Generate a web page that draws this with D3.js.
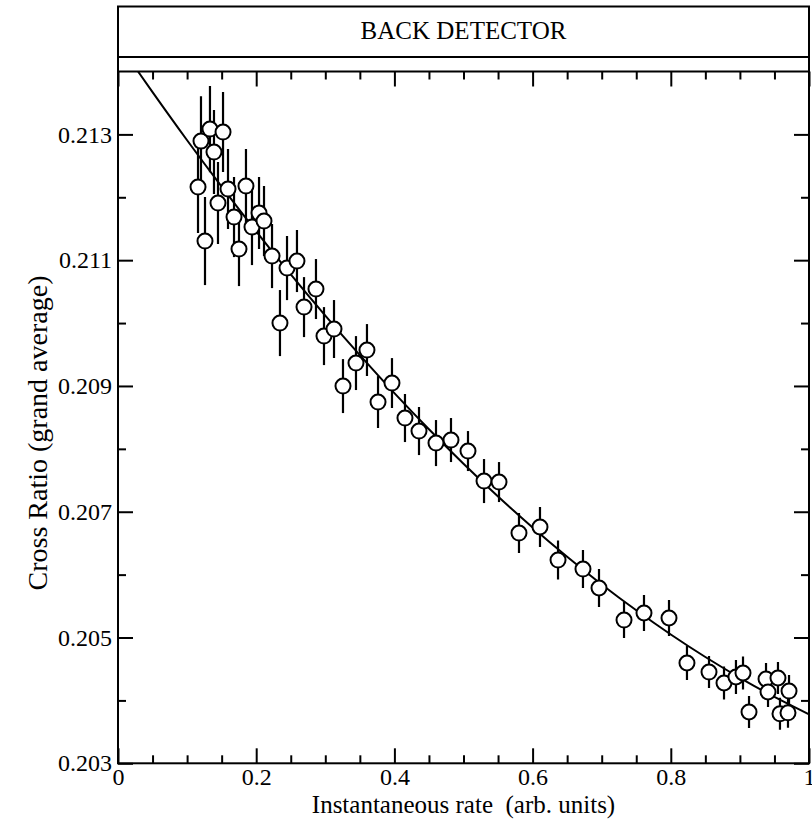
<!DOCTYPE html>
<html>
<head>
<meta charset="utf-8">
<script src="https://cdn.jsdelivr.net/npm/d3@7"></script>
<style>
  html, body { margin: 0; padding: 0; background: #fff; }
  svg { display: block; font-family: "Liberation Serif", "Times New Roman", serif; }
  text { white-space: pre; }
</style>
</head>
<body>
<svg id="chart" width="812" height="827"></svg>
<script>
// ---- data ----
const chartTitle = "BACK DETECTOR";
const xLabel = "Instantaneous rate  (arb. units)";
const yLabel = "Cross Ratio (grand average)";

const rate = [0.1158,0.1201,0.1259,0.1331,0.1389,0.1447,0.1520,0.1592,0.1679,0.1751,
  0.1852,0.1939,0.2041,0.2113,0.2229,0.2446,0.2590,0.2344,0.2692,0.2865,
  0.2981,0.3126,0.3256,0.3444,0.3603,0.3763,0.3965,0.4153,0.4356,0.4602,
  0.4819,0.5065,0.5297,0.5514,0.5803,0.6107,0.6368,0.6729,0.6961,0.7323,
  0.7612,0.7974,0.8234,0.8553,0.8770,0.8943,0.9045,0.9132,0.9378,0.9407,
  0.9551,0.9580,0.9711,0.9696];
const ratio = [0.212162,0.212893,0.211304,0.213084,0.212719,0.211908,0.213037,0.212130,0.211685,0.211176,
  0.212178,0.211526,0.211749,0.211622,0.211065,0.210874,0.210986,0.210000,0.210254,0.210541,
  0.209793,0.209905,0.208998,0.209364,0.209571,0.208744,0.209046,0.208490,0.208283,0.208092,
  0.208140,0.207965,0.207488,0.207472,0.206661,0.206757,0.206232,0.206089,0.205787,0.205278,
  0.205390,0.205310,0.204595,0.204451,0.204277,0.204372,0.204436,0.203816,0.204340,0.204134,
  0.204356,0.203787,0.204149,0.203803];
const ratioErr = [0.000731,0.000715,0.000700,0.000684,0.000668,0.000652,0.000636,0.000636,0.000636,0.000588,
  0.000588,0.000604,0.000572,0.000556,0.000509,0.000509,0.000493,0.000525,0.000477,0.000477,
  0.000461,0.000461,0.000429,0.000429,0.000413,0.000413,0.000397,0.000382,0.000382,0.000366,
  0.000350,0.000318,0.000350,0.000318,0.000318,0.000318,0.000310,0.000302,0.000302,0.000286,
  0.000286,0.000286,0.000270,0.000254,0.000262,0.000270,0.000262,0.000254,0.000254,0.000238,
  0.000254,0.000254,0.000254,0.000238];

// fitted curve
const fitRate  = [0.029,0.05,0.10,0.15,0.20,0.25,0.30,0.35,0.40,0.45,0.50,0.55,0.60,0.65,0.70,0.75,0.80,0.85,0.90,0.95,1.00];
const fitRatio = [0.214000,0.213672,0.212907,0.212169,0.211458,0.210774,0.210118,0.209489,0.208887,0.208312,
  0.207764,0.207243,0.206750,0.206284,0.205844,0.205433,0.205048,0.204690,0.204360,0.204056,0.203780];

const xMajor = [0, 0.2, 0.4, 0.6, 0.8, 1];
const xMajorLabels = ["0", "0.2", "0.4", "0.6", "0.8", "1"];
const xMinor = [0.05,0.1,0.15,0.25,0.3,0.35,0.45,0.5,0.55,0.65,0.7,0.75,0.85,0.9,0.95];
const yMajor = [0.203, 0.205, 0.207, 0.209, 0.211, 0.213];
const yMajorLabels = ["0.203", "0.205", "0.207", "0.209", "0.211", "0.213"];
const yMinor = [0.204, 0.206, 0.208, 0.210, 0.212];

// ---- layout ----
const L = 118, R = 809, T = 71.5, B = 763.3;
const titleTop = 6.5, titleBottom = 57;
const svg = d3.select("#chart");

const x = d3.scaleLinear().domain([0, 1]).range([L, R]);
const y = d3.scaleLinear().domain([0.203, 0.214]).range([B, T]);

const majorLen = 15, minorLen = 8;
const tickFont = 24, labelFont = 25;

function styleAxis(g) {
  g.select(".domain").remove();
  g.selectAll(".tick line").attr("stroke", "#000").attr("stroke-width", 2);
  g.selectAll(".tick text").attr("fill", "#000").style("font-size", tickFont + "px")
    .style("font-family", "'Liberation Serif', 'Times New Roman', serif");
}

svg.append("g").attr("transform", `translate(0,${B})`)
  .call(d3.axisBottom(x).tickValues(xMajor).tickSizeInner(-majorLen).tickSizeOuter(0).tickPadding(5)
    .tickFormat((d, i) => xMajorLabels[i]))
  .call(styleAxis);
svg.append("g").attr("transform", `translate(0,${B})`)
  .call(d3.axisBottom(x).tickValues(xMinor).tickSizeInner(-minorLen).tickSizeOuter(0).tickFormat(""))
  .call(styleAxis);
svg.append("g").attr("transform", `translate(0,${T})`)
  .call(d3.axisTop(x).tickValues(xMajor).tickSizeInner(-majorLen).tickSizeOuter(0).tickFormat(""))
  .call(styleAxis);
svg.append("g").attr("transform", `translate(0,${T})`)
  .call(d3.axisTop(x).tickValues(xMinor).tickSizeInner(-minorLen).tickSizeOuter(0).tickFormat(""))
  .call(styleAxis);

svg.append("g").attr("transform", `translate(${L},0)`)
  .call(d3.axisLeft(y).tickValues(yMajor).tickSizeInner(-majorLen).tickSizeOuter(0).tickPadding(6)
    .tickFormat((d, i) => yMajorLabels[i]))
  .call(styleAxis);
svg.append("g").attr("transform", `translate(${L},0)`)
  .call(d3.axisLeft(y).tickValues(yMinor).tickSizeInner(-minorLen).tickSizeOuter(0).tickFormat(""))
  .call(styleAxis);
svg.append("g").attr("transform", `translate(${R},0)`)
  .call(d3.axisRight(y).tickValues(yMajor).tickSizeInner(-majorLen).tickSizeOuter(0).tickFormat(""))
  .call(styleAxis);
svg.append("g").attr("transform", `translate(${R},0)`)
  .call(d3.axisRight(y).tickValues(yMinor).tickSizeInner(-minorLen).tickSizeOuter(0).tickFormat(""))
  .call(styleAxis);

svg.append("clipPath").attr("id", "plotclip")
  .append("rect").attr("x", L).attr("y", T).attr("width", R - L).attr("height", B - T);

const fitData = fitRate.map((r, i) => ({ r, v: fitRatio[i] }));
svg.append("path")
  .datum(fitData)
  .attr("clip-path", "url(#plotclip)")
  .attr("fill", "none")
  .attr("stroke", "#000")
  .attr("stroke-width", 2)
  .attr("d", d3.line().x(d => x(d.r)).y(d => y(d.v)).curve(d3.curveMonotoneX));

const pts = rate.map((r, i) => ({ r, v: ratio[i], e: ratioErr[i] }));
const gp = svg.append("g").attr("clip-path", "url(#plotclip)");
gp.selectAll("line.err").data(pts).join("line")
  .attr("class", "err")
  .attr("x1", d => x(d.r)).attr("x2", d => x(d.r))
  .attr("y1", d => y(d.v + d.e)).attr("y2", d => y(d.v - d.e))
  .attr("stroke", "#000").attr("stroke-width", 2.2);
gp.selectAll("circle").data(pts).join("circle")
  .attr("cx", d => x(d.r)).attr("cy", d => y(d.v)).attr("r", 7.5)
  .attr("fill", "#fff").attr("stroke", "#000").attr("stroke-width", 2);

const frame = svg.append("g").attr("fill", "none").attr("stroke", "#000").attr("stroke-width", 2);
frame.append("rect").attr("x", L).attr("y", titleTop).attr("width", R - L).attr("height", B - titleTop);
frame.append("line").attr("x1", L).attr("x2", R).attr("y1", titleBottom).attr("y2", titleBottom);
frame.append("line").attr("x1", L).attr("x2", R).attr("y1", T).attr("y2", T);

svg.append("text")
  .attr("x", (L + R) / 2).attr("y", 39)
  .attr("text-anchor", "middle")
  .style("font-size", labelFont + "px").text(chartTitle);

svg.append("text")
  .attr("x", (L + R) / 2).attr("y", 813)
  .attr("text-anchor", "middle")
  .style("font-size", labelFont + "px").text(xLabel);

svg.append("text")
  .attr("transform", `translate(47,433) rotate(-90)`)
  .attr("text-anchor", "middle")
  .style("font-size", "28px").text(yLabel);
</script>
</body>
</html>
